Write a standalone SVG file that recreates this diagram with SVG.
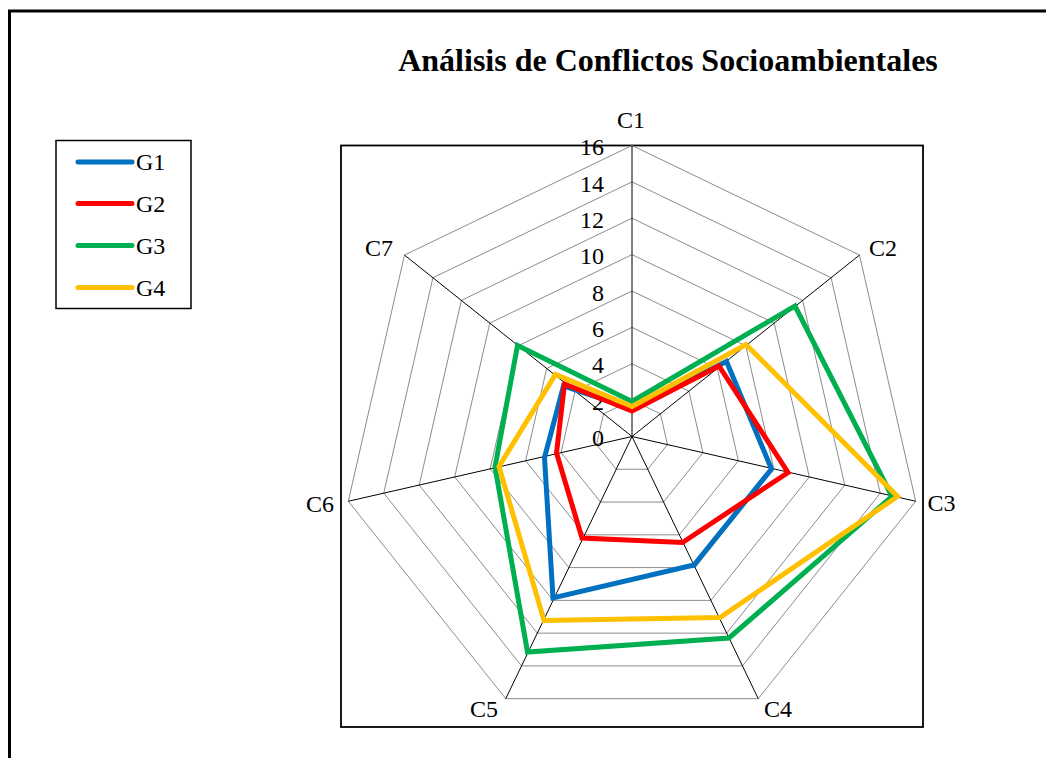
<svg xmlns="http://www.w3.org/2000/svg" width="1046" height="758" viewBox="0 0 1046 758">
<style>
.t{font-family:"Liberation Serif","Times New Roman",serif;fill:#000;font-size:24px}
.ttl{font-family:"Liberation Serif","Times New Roman",serif;font-weight:bold;font-size:32px;fill:#000}
.grid{fill:none;stroke:#8c8c8c;stroke-width:1}
.spoke{stroke:#000;stroke-width:1}
.ser{fill:none;stroke-width:5;stroke-linejoin:miter;stroke-miterlimit:10}
.leg{stroke-width:5;stroke-linecap:round}
.g1{stroke:#0070C0}.g2{stroke:#FF0000}.g3{stroke:#00B050}.g4{stroke:#FFC000}
</style>
<rect x="0" y="0" width="1046" height="758" fill="#fff"/>
<rect id="frame" x="9.5" y="11" width="1100" height="800" fill="none" stroke="#000" stroke-width="3"/>
<text id="title" class="ttl" x="668" y="71" text-anchor="middle">Análisis de Conflictos Socioambientales</text>
<rect id="plotarea" x="341" y="145.5" width="582" height="581.5" fill="none" stroke="#000" stroke-width="1.8"/>
<g id="gridrings">
<polygon class="grid" points="632,400.13 660.44,413.82 667.46,444.59 647.78,469.27 616.22,469.27 596.54,444.59 603.56,413.82"/>
<polygon class="grid" points="632,363.75 688.88,391.14 702.93,452.69 663.57,502.05 600.43,502.05 561.07,452.69 575.12,391.14"/>
<polygon class="grid" points="632,327.38 717.32,368.46 738.39,460.78 679.35,534.82 584.65,534.82 525.61,460.78 546.68,368.46"/>
<polygon class="grid" points="632,291 745.76,345.78 773.85,468.88 695.13,567.59 568.87,567.59 490.15,468.88 518.24,345.78"/>
<polygon class="grid" points="632,254.63 774.2,323.1 809.32,476.97 710.91,600.36 553.09,600.36 454.68,476.97 489.8,323.1"/>
<polygon class="grid" points="632,218.25 802.63,300.42 844.78,485.07 726.69,633.14 537.31,633.14 419.22,485.07 461.37,300.42"/>
<polygon class="grid" points="632,181.88 831.07,277.74 880.24,493.16 742.48,665.91 521.52,665.91 383.76,493.16 432.93,277.74"/>
<polygon class="grid" points="632,145.5 859.51,255.06 915.71,501.25 758.26,698.68 505.74,698.68 348.3,501.25 404.49,255.06"/>
</g>
<g id="spokes">
<line class="spoke" x1="632" y1="436.5" x2="632" y2="145.5"/>
<line class="spoke" x1="632" y1="436.5" x2="859.51" y2="255.06"/>
<line class="spoke" x1="632" y1="436.5" x2="915.71" y2="501.25"/>
<line class="spoke" x1="632" y1="436.5" x2="758.26" y2="698.68"/>
<line class="spoke" x1="632" y1="436.5" x2="505.74" y2="698.68"/>
<line class="spoke" x1="632" y1="436.5" x2="348.3" y2="501.25"/>
<line class="spoke" x1="632" y1="436.5" x2="404.49" y2="255.06"/>
</g>
<g id="ticks" class="t" text-anchor="end">
<text x="604" y="155">16</text>
<text x="604" y="191.5">14</text>
<text x="604" y="228">12</text>
<text x="604" y="264">10</text>
<text x="604" y="300.5">8</text>
<text x="604" y="337">6</text>
<text x="604" y="373">4</text>
<text x="604" y="409.5">2</text>
<text x="604" y="446">0</text>
</g>
<g id="axislabels" class="t">
<text id="lC1" x="631" y="128" text-anchor="middle">C1</text>
<text id="lC2" x="869" y="256">C2</text>
<text id="lC3" x="927.5" y="511">C3</text>
<text id="lC4" x="764" y="717">C4</text>
<text id="lC5" x="470" y="717">C5</text>
<text id="lC6" x="306" y="512">C6</text>
<text id="lC7" x="365" y="256">C7</text>
</g>
<g id="series">
<polygon id="G1" class="ser g1" points="632,409 726.5,361.5 771.5,469 694,565 553,598 544.5,457.5 563.5,386"/>
<polygon id="G2" class="ser g2" points="632,411 719,366 788,472.5 682.5,542.5 582,538 556.5,453 564.5,384"/>
<polygon id="G3" class="ser g3" points="632,401.5 795,306 892,496.5 729,638 527.5,652 495,467 517.5,345.5"/>
<polygon id="G4" class="ser g4" points="632,406.5 746,344.5 897.5,496.5 720,617.5 544,620.5 499,466.5 555.5,374.5"/>
</g>
<g id="legend">
<rect x="56" y="140.5" width="135" height="168" fill="#fff" stroke="#000" stroke-width="1.5"/>
<g id="legG1"><line class="leg g1" x1="78" y1="162" x2="132" y2="162"/><text class="t" x="136" y="170">G1</text></g>
<g id="legG2"><line class="leg g2" x1="78" y1="203.5" x2="132" y2="203.5"/><text class="t" x="136" y="212">G2</text></g>
<g id="legG3"><line class="leg g3" x1="78" y1="245.5" x2="132" y2="245.5"/><text class="t" x="136" y="254">G3</text></g>
<g id="legG4"><line class="leg g4" x1="78" y1="287.5" x2="132" y2="287.5"/><text class="t" x="136" y="295.5">G4</text></g>
</g>
</svg>
